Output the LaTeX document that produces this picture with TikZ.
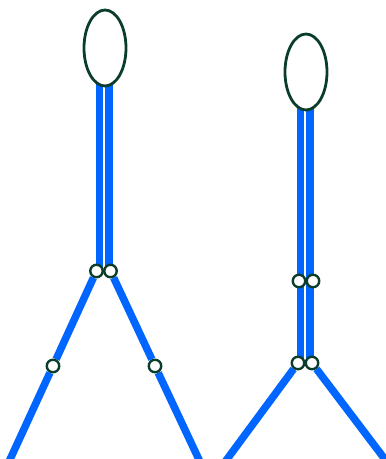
\documentclass[tikz,border=0pt]{standalone}
\usepackage{xcolor}
\usepackage{tikz}
\usetikzlibrary{shapes.geometric, positioning, backgrounds}
\definecolor{limbblue}{HTML}{0066FF}
\definecolor{jointgreen}{HTML}{0B3D2C}

\begin{document}
\begin{tikzpicture}[x=1pt, y=-1pt,
        head/.style={ellipse, draw=jointgreen, line width=2.8pt, fill=white,
          inner sep=0pt, minimum width=42pt, minimum height=76pt},
        joint/.style={circle, draw=jointgreen, line width=2.4pt, fill=white,
          inner sep=0pt, minimum size=12.5pt},
        limb/.style={draw=limbblue, line width=7.5pt}]
        \useasboundingbox (0,0) rectangle (386,459);
        % left figure
        \node[head] (headL) at (105,48) {};
        \node[joint] (hipLa) at (96.5,271) {};
        \node[joint] (hipLb) at (110.5,271) {};
        \node[joint] (kneeLa) at (53,366) {};
        \node[joint] (kneeLb) at (155,366) {};
        \coordinate (neckLa) at (99.5,70);
        \coordinate (neckLb) at (109,70);
        \coordinate (footLa) at (7,466);
        \coordinate (footLb) at (202,466);
        % right figure
        \node[head] (headR) at (306,72) {};
        \node[joint] (waistRa) at (299,281) {};
        \node[joint] (waistRb) at (313,281) {};
        \node[joint] (hipRa) at (298,363) {};
        \node[joint] (hipRb) at (312,363) {};
        \coordinate (neckRa) at (300.5,95);
        \coordinate (neckRb) at (310,95);
        \coordinate (footRa) at (222,466);
        \coordinate (footRb) at (390,466);
        \begin{scope}[on background layer]
          \draw[limb] (neckLa) -- (neckLa |- hipLa);
          \draw[limb] (neckLb) -- (neckLb |- hipLb);
          \draw[limb] (hipLa) -- (kneeLa) -- (footLa);
          \draw[limb] (hipLb) -- (kneeLb) -- (footLb);
          \draw[limb] (neckRa) -- (neckRa |- hipRa);
          \draw[limb] (neckRb) -- (neckRb |- hipRb);
          \draw[limb] (hipRa) -- (footRa);
          \draw[limb] (hipRb) -- (footRb);
        \end{scope}
      \end{tikzpicture}
\end{document}
